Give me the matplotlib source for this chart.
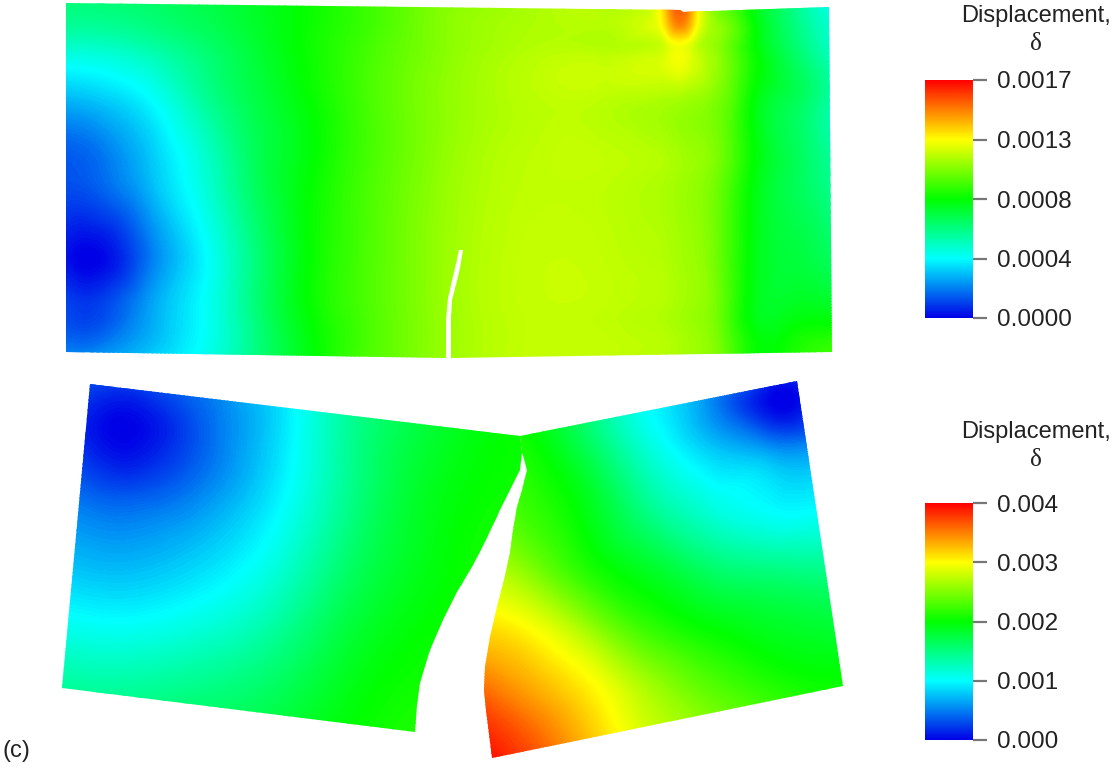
import numpy as np
import matplotlib
matplotlib.use("Agg")
import matplotlib.pyplot as plt
import matplotlib.tri as mtri
from matplotlib.cm import ScalarMappable
from matplotlib.colors import LinearSegmentedColormap, Normalize
from matplotlib.patches import Polygon

plt.rcParams['font.family'] = ['Liberation Sans', 'DejaVu Sans']

# top panel, sampled field in units of 1e-3
top_x = [66, 90, 150, 200, 250, 300, 350, 400, 450, 520, 600, 650, 665, 680, 695, 720, 750, 790, 832]
top_y = [0, 25, 50, 100, 170, 250, 310, 360]
top_z = [
    [.65, .65, .68, .72, .78, .85, .92, 1.00, 1.07, 1.12, 1.15, 1.25, 1.42, 1.72, 1.42, 1.10, .88, .64, .44],
    [.60, .60, .64, .70, .77, .85, .92, 1.00, 1.08, 1.13, 1.15, 1.21, 1.32, 1.48, 1.30, 1.08, .88, .66, .49],
    [.50, .50, .56, .65, .75, .85, .93, 1.01, 1.08, 1.14, 1.15, 1.17, 1.20, 1.25, 1.18, 1.07, .88, .69, .52],
    [.30, .32, .42, .58, .72, .83, .93, 1.02, 1.09, 1.15, 1.16, 1.14, 1.13, 1.12, 1.10, 1.04, .86, .72, .57],
    [.14, .16, .32, .48, .68, .82, .93, 1.02, 1.10, 1.16, 1.17, 1.15, 1.14, 1.12, 1.10, 1.03, .86, .72, .60],
    [.03, .00, .20, .40, .62, .82, .94, 1.03, 1.11, 1.17, 1.17, 1.15, 1.14, 1.12, 1.10, 1.01, .84, .75, .68],
    [.12, .10, .27, .42, .62, .82, .94, 1.03, 1.11, 1.17, 1.17, 1.15, 1.14, 1.12, 1.10, 1.02, .83, .80, .80],
    [.25, .26, .35, .45, .62, .80, .94, 1.03, 1.11, 1.17, 1.17, 1.15, 1.14, 1.12, 1.10, 1.04, .85, .87, .95],
]
top_outline_x = [66, 680, 683, 829, 832, 451, 451, 452, 456, 460, 463, 459, 455, 451, 448, 446, 446, 66]
top_outline_y = [3, 10, 12, 7, 352, 358, 320, 300, 285, 268, 250, 250, 268, 285, 298, 320, 358, 352]

# lower panel, left piece, sampled field in units of 1e-3
left_x = [55, 130, 200, 270, 340, 410, 480, 535]
left_y = [375, 430, 490, 550, 620, 690, 740]
left_z = [
    [.40, .35, .55, .85, 1.35, 1.68, 1.90, 1.98],
    [.35, .00, .35, .80, 1.35, 1.72, 1.95, 2.02],
    [.50, .30, .50, .88, 1.38, 1.80, 2.00, 2.07],
    [.72, .65, .78, 1.05, 1.50, 1.85, 2.05, 2.12],
    [1.05, 1.00, 1.10, 1.32, 1.70, 1.95, 2.08, 2.15],
    [1.42, 1.40, 1.48, 1.62, 1.88, 2.05, 2.12, 2.20],
    [1.65, 1.65, 1.70, 1.80, 1.98, 2.10, 2.17, 2.25],
]
left_outline_x = [90, 520, 522, 520, 510, 500, 486, 472, 457, 443, 430, 420, 417, 415, 62]
left_outline_y = [384, 436, 452, 470, 490, 510, 540, 567, 592, 620, 650, 683, 705, 732, 688]

# lower panel, right piece
right_x = [480, 530, 590, 650, 710, 770, 830, 850]
right_y = [375, 405, 450, 510, 570, 630, 690, 730, 765]
right_z = [
    [2.00, 1.95, 1.55, 1.05, .65, .25, .35, .50],
    [2.00, 1.95, 1.50, 1.00, .55, .02, .30, .45],
    [2.20, 2.05, 1.65, 1.15, .80, .60, .65, .72],
    [2.40, 2.20, 1.90, 1.45, 1.15, 1.00, 1.02, 1.05],
    [2.80, 2.50, 2.10, 1.85, 1.60, 1.50, 1.47, 1.48],
    [3.15, 3.00, 2.60, 2.20, 2.00, 1.88, 1.82, 1.80],
    [3.60, 3.35, 3.05, 2.65, 2.35, 2.15, 2.05, 2.05],
    [3.85, 3.60, 3.20, 2.80, 2.55, 2.35, 2.20, 2.15],
    [4.00, 3.75, 3.35, 3.00, 2.70, 2.50, 2.40, 2.30],
]
right_outline_x = [520, 797, 843, 492, 486, 484, 485, 490, 497, 504, 510, 513, 517, 522, 527, 522]
right_outline_y = [436, 381, 686, 758, 710, 690, 667, 637, 607, 580, 553, 530, 507, 490, 470, 452]

# colorbars
top_ticks = [0.0, 0.425, 0.85, 1.275, 1.7]
top_tick_labels = ['0.0000', '0.0004', '0.0008', '0.0013', '0.0017']
low_ticks = [0.0, 1.0, 2.0, 3.0, 4.0]
low_tick_labels = ['0.000', '0.001', '0.002', '0.003', '0.004']

cmap = LinearSegmentedColormap.from_list(
    'rainbow5', ['#0000e6', '#00ffff', '#00ff00', '#ffff00', '#ff0000'], N=512)


def draw_field(ax, xs, ys, zs, outline_x, outline_y, vmax):
    X, Y = np.meshgrid(xs, ys)
    tri = mtri.Triangulation(X.ravel(), Y.ravel())
    refiner = mtri.UniformTriRefiner(tri)
    fine_tri, fine_z = refiner.refine_field(np.array(zs).ravel(), subdiv=3)
    cs = ax.tricontourf(fine_tri, fine_z, levels=np.linspace(0, vmax, 200),
                        cmap=cmap, extend='both')
    clip = Polygon(np.column_stack([outline_x, outline_y]), closed=True,
                   transform=ax.transData, fc='none', ec='none')
    ax.add_patch(clip)
    cs.set_clip_path(clip)


def draw_colorbar(fig, rect, vmax, ticks, labels):
    cax = fig.add_axes(rect)
    cb = fig.colorbar(ScalarMappable(Normalize(0, vmax), cmap), cax=cax)
    cb.outline.set_visible(False)
    cb.set_ticks(ticks, labels=labels)
    cb.ax.tick_params(length=10, width=1.6, color='#777777', labelsize=17.5,
                      labelcolor='#222222', pad=7)


W, H = 1118, 772
fig = plt.figure(figsize=(W / 100, H / 100), dpi=100, facecolor='white')
ax = fig.add_axes([0, 0, 1, 1])
ax.set_xlim(0, W)
ax.set_ylim(H, 0)
ax.axis('off')

draw_field(ax, top_x, top_y, top_z, top_outline_x, top_outline_y, 1.7)
draw_field(ax, left_x, left_y, left_z, left_outline_x, left_outline_y, 4.0)
draw_field(ax, right_x, right_y, right_z, right_outline_x, right_outline_y, 4.0)

draw_colorbar(fig, [925 / W, 1 - 318 / H, 48 / W, 238 / H], 1.7, top_ticks, top_tick_labels)
draw_colorbar(fig, [925 / W, 1 - 740 / H, 48 / W, 237 / H], 4.0, low_ticks, low_tick_labels)

for y_title, y_delta in [(16, 44), (432, 460)]:
    ax.text(1036, y_title, 'Displacement,', ha='center', va='center', fontsize=17, color='#222222')
    ax.text(1036, y_delta, 'δ', ha='center', va='center', fontsize=18, color='#222222',
            family='Liberation Serif')
ax.text(2, 751, '(c)', ha='left', va='center', fontsize=17, color='#222222')

fig.savefig('out.png', dpi=100)
